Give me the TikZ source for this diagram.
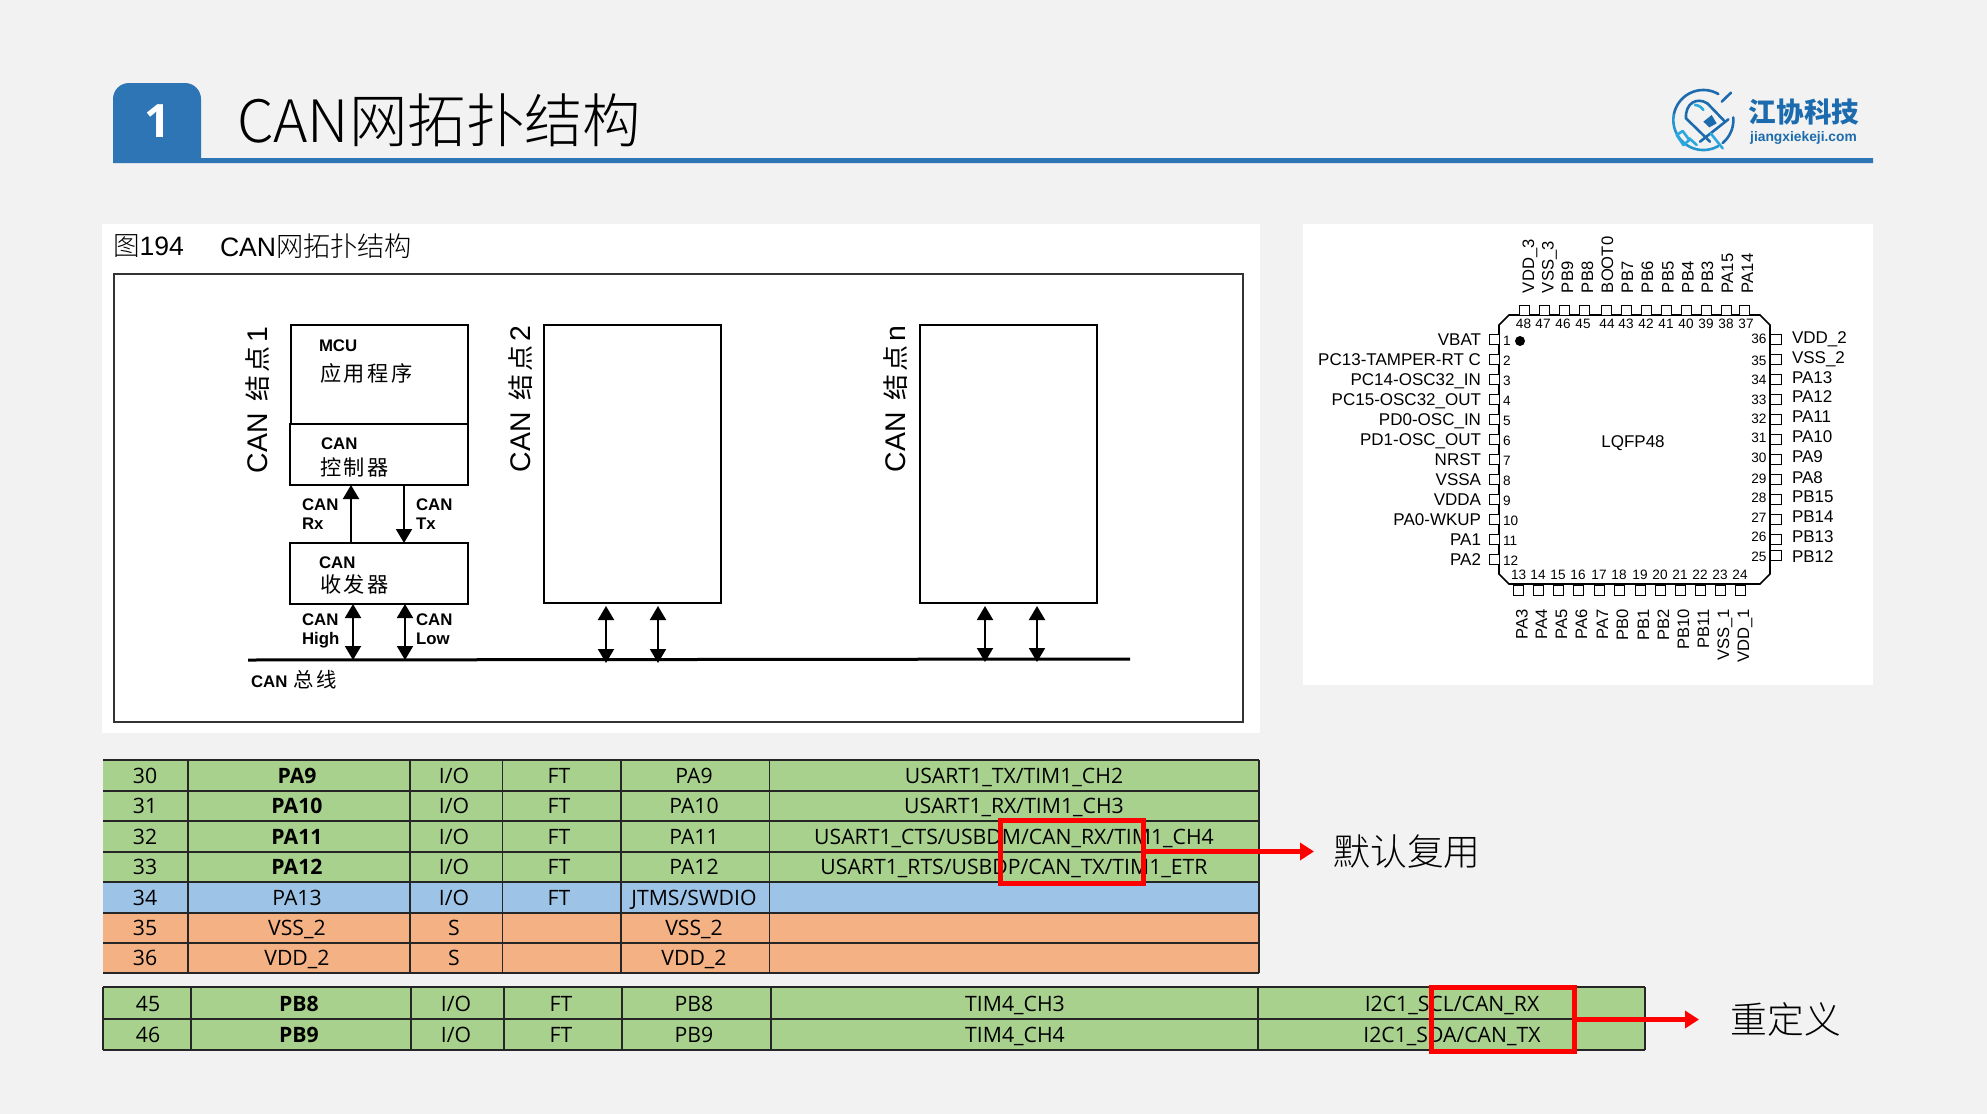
\documentclass[tikz,border=0pt]{standalone}
\usepackage{fontspec}
\setmainfont{Liberation Sans}
\newfontfamily\cjk{Noto Sans CJK SC}
\newfontfamily\cjkl{Noto Sans CJK SC Light}
\newfontfamily\cjkw[LetterSpace=12]{Noto Sans CJK SC}
\newfontfamily\tabf{Open Sans}
\usetikzlibrary{arrows.meta}
\definecolor{pagebg}{HTML}{F2F2F2}
\definecolor{hblue}{HTML}{2E75B6}
\definecolor{rgreen}{HTML}{A9D18E}
\definecolor{rblue}{HTML}{9DC3E6}
\definecolor{rorange}{HTML}{F4B183}
\definecolor{logod}{HTML}{1C6BAE}
\definecolor{logol}{HTML}{29A9DF}
\tikzset{
  lbl/.style={inner sep=0pt,outer sep=0pt},
  blockbox/.style={draw=black,line width=1pt,rectangle,inner sep=0pt,outer sep=0pt},
  sigarrow/.style={line width=1pt,-{Triangle[width=8pt,length=7pt]}},
  bisarrow/.style={line width=1pt,{Triangle[width=8pt,length=7pt]}-{Triangle[width=8pt,length=7pt]}},
  figb/.style={lbl,anchor=west,font=\bfseries\fontsize{8.4}{10}\selectfont,text height=6pt,text depth=0pt},
  figc/.style={lbl,anchor=west,font=\cjkw\fontsize{10.6}{12}\selectfont},
  vert/.style={lbl,rotate=90,font=\fontsize{14.2}{16}\selectfont},
  cell/.style={lbl,font=\tabf\fontsize{10.6}{12}\selectfont,text height=7.5pt,text depth=0pt,anchor=center},
  cellb/.style={cell,font=\tabf\bfseries\fontsize{10.6}{12}\selectfont},
  rule/.style={line width=.75pt,black!85},
  chipt/.style={lbl,font=\fontsize{8.3}{10}\selectfont,text height=6.1pt,text depth=0pt},
  chips/.style={lbl,font=\fontsize{8.5}{10}\selectfont,text height=6.1pt,text depth=0pt},
  chipn/.style={lbl,font=\fontsize{6.8}{8}\selectfont,text height=4.9pt,text depth=0pt},
  pin/.style={draw=black,line width=.5pt,fill=white},
  redbox/.style={draw=red,line width=2.5pt,rectangle,inner sep=0pt,outer sep=0pt},
  redarrow/.style={draw=red,line width=2.2pt,-{Triangle[width=8.5pt,length=7pt]}},
  callout/.style={lbl,font=\cjkl\fontsize{18.4}{20}\selectfont},
}
\newcommand{\tabrow}[9]{%
  \fill[#3] (103,#1) rectangle (1259,#2);
  \node[cell] (n#4) at (145,{(#1+#2)/2}) {#4};
  \node[#5] (p#4) at (297,{(#1+#2)/2}) {#6};
  \node[cell] (io#4) at (454,{(#1+#2)/2}) {#7};
  \node[cell] (ft#4) at (559,{(#1+#2)/2}) {#8};
  \node[cell] (m#4) at (694,{(#1+#2)/2}) {#9};
}
\newcommand{\tabrowb}[5]{%
  \node[cell] (n#2) at (148,{#1}) {#2};
  \node[cellb] (p#2) at (299,{#1}) {#3};
  \node[cell] (io#2) at (456,{#1}) {I/O};
  \node[cell] (ft#2) at (561,{#1}) {FT};
  \node[cell] (m#2) at (694,{#1}) {#3};
  \node[cell] (a#2) at (1015,{#1}) {#4};
  \node[cell] (b#2) at (1452,{#1}) {#5};
}
\begin{document}
\begin{tikzpicture}[x=.5pt,y=-.5pt]
\useasboundingbox (0,0) rectangle (1987,1114);
\fill[pagebg] (0,0) rectangle (1987,1114);
% header
\fill[hblue] (113,163) -- (113,99) to[out=90,in=180] (129,83) -- (185,83) to[out=0,in=90] (201,99) -- (201,158) -- (1873,158) -- (1873,163) -- cycle;
\node[lbl,text=white,font=\tabf\bfseries\fontsize{23}{26}\selectfont] (num) at (158,121) {1};
\node[lbl,anchor=west,font=\cjkl\fontsize{29.2}{32}\selectfont,text=black] (title) at (237,120) {CAN网拓扑结构};
% logo
\begin{scope}[shift={(1650,70)},x=.1667pt,y=-.1667pt,line cap=round,line join=round,line width=1.3pt]
  \draw[logod] plot[domain=60:170,samples=30] ({160+90*cos(\x)},{150-90*sin(\x)});
  \draw[logol!70!logod] plot[domain=170:300,samples=30] ({160+90*cos(\x)},{150-90*sin(\x)});
  \draw[logod] plot[domain=-50:5,samples=20] ({160+90*cos(\x)},{150-90*sin(\x)});
  \draw[logod] (215,95) -- (243,68);
  \draw[logod] (172,100) .. controls (140,80) and (105,100) .. (108,145) -- (180,215);
  \draw[logod] (172,100) -- (225,155);
  \draw[logod] (150,215) -- (235,148);
  \draw[logol] (182,190) -- (218,235);
  \draw[logol] (80,195) -- (98,183) -- (118,210) -- (100,225) -- cycle;
  \draw[logol] (118,205) -- (140,225);
  \fill[logod] (160,155) -- (185,135) -- (200,160) -- (178,172) -- cycle;
  \draw[logol] (135,105) .. controls (145,105) and (155,112) .. (160,120);
\end{scope}
\node[lbl,text=logod,font=\cjk\bfseries\fontsize{13.8}{16}\selectfont] (lg1) at (1804,112) {江协科技};
\node[lbl,text=logod,font=\bfseries\fontsize{6.9}{9}\selectfont] (lg2) at (1803.5,138) {jiangxiekeji.com};
% panels
\fill[white] (102,224) rectangle (1260,733);
\fill[white] (1303,224) rectangle (1873,685);
\node[lbl,anchor=west,font=\fontsize{13.3}{15}\selectfont] (cap1) at (113,246) {{\cjkl 图}194};
\node[lbl,anchor=west,font=\fontsize{13.3}{15}\selectfont] (cap2) at (220,246) {CAN{\cjkl\fontsize{13.6}{15}\selectfont 网拓扑结构}};
\draw[black!80,line width=1pt] (114,274) rectangle (1243,722);
% node blocks
\node[blockbox,minimum width=88.5pt,minimum height=49.5pt] (mcu) at (379,374.5) {};
\node[blockbox,minimum width=89pt,minimum height=30.5pt] (ctrl) at (378.5,454.5) {};
\node[blockbox,minimum width=89pt,minimum height=30.5pt] (trans) at (378.5,573.5) {};
\node[blockbox,minimum width=88.5pt,minimum height=139pt] (box2) at (632.5,464) {};
\node[blockbox,minimum width=88.5pt,minimum height=139pt] (boxn) at (1008,464) {};
\coordinate (busL) at (248,660);
\coordinate (busR) at (1130,659);
\draw[black,line width=1.5pt] (busL) -- (busR);
\draw[sigarrow] (351,0 |- trans.north) -- (351,0 |- ctrl.south);
\draw[sigarrow] (404,0 |- ctrl.south) -- (404,0 |- trans.north);
\draw[bisarrow] (353,0 |- trans.south) -- (353,0 |- busL);
\draw[bisarrow] (405,0 |- trans.south) -- (405,0 |- busL);
\draw[bisarrow,shorten <=1.5pt,shorten >=-1.5pt] (606,0 |- box2.south) -- (606,0 |- busL);
\draw[bisarrow,shorten <=1.5pt,shorten >=-1.5pt] (658,0 |- box2.south) -- (658,0 |- busL);
\draw[bisarrow,shorten <=1.5pt,shorten >=-1.5pt] (985,0 |- boxn.south) -- (985,0 |- busR);
\draw[bisarrow,shorten <=1.5pt,shorten >=-1.5pt] (1037,0 |- boxn.south) -- (1037,0 |- busR);
\node[figb] (t1) at (319,345) {MCU};
\node[figc] (t2) at (320,373) {应用程序};
\node[figb] (t3) at (321,443) {CAN};
\node[figc] (t4) at (320,467) {控制器};
\node[figb] (t5) at (302,504) {CAN};
\node[figb] (t6) at (302,523) {Rx};
\node[figb] (t7) at (416,504) {CAN};
\node[figb] (t8) at (416,523) {Tx};
\node[figb] (t9) at (319,562) {CAN};
\node[figc] (t10) at (320,584) {收发器};
\node[figb] (t11) at (302,619) {CAN};
\node[figb] (t12) at (302,638) {High};
\node[figb] (t13) at (416,619) {CAN};
\node[figb] (t14) at (416,638) {Low};
\node[lbl,anchor=west,font=\bfseries\fontsize{8.4}{10}\selectfont] (t15) at (251,680) {CAN\hspace{3pt}{\cjkw\mdseries\fontsize{10.2}{12}\selectfont 总线}};
\node[vert] (v1) at (258,400) {CAN\hspace{6pt}{\cjkw\fontsize{13}{14}\selectfont 结点}\hspace{2pt}1};
\node[vert] (v2) at (521,399) {CAN\hspace{6pt}{\cjkw\fontsize{13}{14}\selectfont 结点}\hspace{2pt}2};
\node[vert] (v3) at (896,399) {CAN\hspace{6pt}{\cjkw\fontsize{13}{14}\selectfont 结点}\hspace{2pt}n};
% chip
\draw[black,line width=.8pt,fill=white] (1509,315) -- (1760,315) -- (1770,325) -- (1770,574) -- (1760,584) -- (1509,584) -- (1499,574) -- (1499,325) -- cycle;
\fill[black] (1520,341) circle (5);
\node[chips] (lq) at (1633,441) {LQFP48};
\foreach \p/\nx/\lx/\n/\l in {1524/1523.5/1528/48/VDD\_3,1544.5/1543/1547.6/47/VSS\_3,1564.5/1563/1567/46/PB9,1584.4/1583/1587/45/PB8,1606/1607/1607/44/BOOT0,1626/1626/1627/43/PB7,1646/1646/1647/42/PB6,1666/1666/1667.6/41/PB5,1686/1686/1687.5/40/PB4,1706/1706/1707/39/PB3,1726.6/1726/1727/38/PA15,1744.7/1746/1747/37/PA14}{
  \draw[pin] (\p-5,305) rectangle (\p+5,315);
  \node[chipn] (pn\n) at (\nx,324) {\n};
  \node[chipt,rotate=90,anchor=west] (pl\n) at (\lx,293) {\l};
}
\foreach \p/\n/\l in {1518.6/13/PA3,1538/14/PA4,1558/15/PA5,1578/16/PA6,1599/17/PA7,1619/18/PB0,1640/19/PB1,1660/20/PB2,1680/21/PB10,1700/22/PB11,1720/23/VSS\_1,1740/24/VDD\_1}{
  \draw[pin] (\p-5,585) rectangle (\p+5,595);
  \node[chipn] (pn\n) at (\p,575) {\n};
  \node[chipt,rotate=90,anchor=east] (pl\n) at (\p+3,609) {\l};
}
\foreach \y/\n/\l in {339/1/VBAT,359/2/PC13-TAMPER-RT C,379/3/PC14-OSC32\_IN,399/4/PC15-OSC32\_OUT,419/5/PD0-OSC\_IN,439/6/PD1-OSC\_OUT,459/7/NRST,479/8/VSSA,499/9/VDDA,519/10/PA0-WKUP,539/11/PA1,559/12/PA2}{
  \draw[pin] (1489,\y-5) rectangle (1499,\y+5);
  \node[chipn,anchor=west] (pn\n) at (1503,\y+2) {\n};
  \node[chips,anchor=east] (pl\n) at (1481,\y) {\l};
}
\foreach \y/\ny/\ly/\n/\l in {339/339/337/36/VDD\_2,359/361/357/35/VSS\_2,379/380/377/34/PA13,399/400/396/33/PA12,419/419/416/32/PA11,439/438/436/31/PA10,459/458/456/30/PA9,479/479/477/29/PA8,499/498/496/28/PB15,519/518/516/27/PB14,539/537/536/26/PB13,555/557/556/25/PB12}{
  \draw[pin] (1770,\y-5) rectangle (1781,\y+5);
  \node[chipn,anchor=east] (pn\n) at (1766.5,\ny) {\n};
  \node[chips,anchor=west] (pl\n) at (1792,\ly) {\l};
}
% table 1
\tabrow{760}{791}{rgreen}{30}{cellb}{PA9}{I/O}{FT}{PA9}
\tabrow{791}{821}{rgreen}{31}{cellb}{PA10}{I/O}{FT}{PA10}
\tabrow{821}{852}{rgreen}{32}{cellb}{PA11}{I/O}{FT}{PA11}
\tabrow{852}{882}{rgreen}{33}{cellb}{PA12}{I/O}{FT}{PA12}
\tabrow{882}{913}{rblue}{34}{cell}{PA13}{I/O}{FT}{JTMS/SWDIO}
\tabrow{913}{943}{rorange}{35}{cell}{VSS\_2}{S}{}{VSS\_2}
\tabrow{943}{973}{rorange}{36}{cell}{VDD\_2}{S}{}{VDD\_2}
\node[cell] (x30) at (1014,775.5) {USART1\_TX/TIM1\_CH2};
\node[cell] (x31) at (1014,806) {USART1\_RX/TIM1\_CH3};
\node[cell] (x32) at (1014,836.5) {USART1\_CTS/USBDM/CAN\_RX/TIM1\_CH4};
\node[cell] (x33) at (1014,867) {USART1\_RTS/USBDP/CAN\_TX/TIM1\_ETR};
\foreach \y in {760,791,821,852,882,913,943,973} \draw[rule] (103,\y) -- (1259,\y);
\foreach \x in {188,410,502.5,621,769.5,1259} \draw[rule] (\x,760) -- (\x,973);
% table 2
\fill[rgreen] (103,987) rectangle (1645,1050);
\draw[rorange,line width=.75pt] (103,1050.5) -- (1645,1050.5);
\tabrowb{1004}{45}{PB8}{TIM4\_CH3}{I2C1\_SCL/CAN\_RX}
\tabrowb{1034.5}{46}{PB9}{TIM4\_CH4}{I2C1\_SDA/CAN\_TX}
\foreach \y in {987,1019,1050} \draw[rule] (103,\y) -- (1645,\y);
\foreach \x in {103,191,411,504,622,771,1258,1645} \draw[rule] (\x,987) -- (\x,1050);
% callouts
\node[redbox,minimum width=71.5pt,minimum height=31.5pt] (redA) at (1072,851.5) {};
\node[redbox,minimum width=71.5pt,minimum height=32pt] (redB) at (1503,1019.5) {};
\node[callout] (lblA) at (1407,852) {默认复用};
\node[callout] (lblB) at (1786,1019) {重定义};
\coordinate (tipA) at (1314,851.5);
\coordinate (tipB) at (1699,1019.5);
\draw[redarrow] (redA.east) -- (tipA);
\draw[redarrow] (redB.east) -- (tipB);
\end{tikzpicture}
\end{document}
